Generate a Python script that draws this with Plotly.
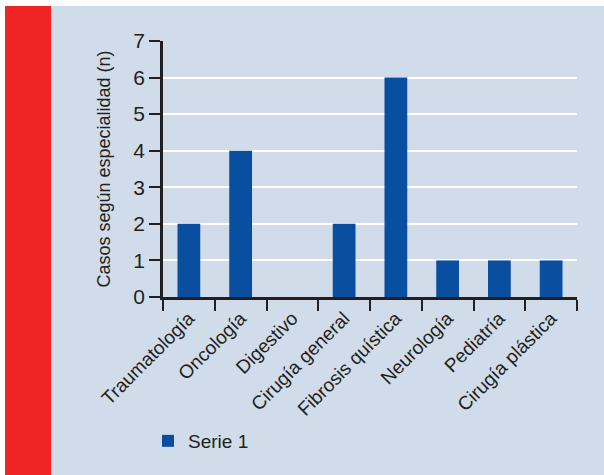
import plotly.graph_objects as go

categorias = ["Traumatología", "Oncología", "Digestivo", "Cirugía general",
              "Fibrosis quística", "Neurología", "Pediatría", "Cirugía plástica"]
casos = [2, 4, 0, 2, 6, 1, 1, 1]
y_ticks = [0, 1, 2, 3, 4, 5, 6, 7]
serie = "Serie 1"

W, H = 604, 475
L, R, T, B = 163, 27, 41, 178
pw, ph = W - L - R, H - T - B

def px_x(p):
    return (p - L) / pw

def px_y(p):
    return (H - B - p) / ph

panel = "#d0dce9"
barra = "#0a4ea0"
tinta = "#231f20"
fuente = "Liberation Sans, Arial, sans-serif"

fig = go.Figure()
fig.add_trace(go.Bar(x=categorias, y=casos, name=serie, marker_color=barra,
                     marker_line_width=0, showlegend=True))

fig.update_layout(
    width=W, height=H,
    margin=dict(l=L, r=R, t=T, b=B, pad=0),
    paper_bgcolor=panel, plot_bgcolor=panel,
    bargap=0.56,
    font=dict(family=fuente, color=tinta),
    showlegend=True,
    legend=dict(x=px_x(148), y=px_y(441), xanchor="left", yanchor="middle",
                bgcolor="rgba(0,0,0,0)", font=dict(size=19, family=fuente, color=tinta)),
    shapes=[
        # white frame strips at top and left
        dict(type="rect", xref="paper", yref="paper", x0=px_x(0), x1=px_x(W),
             y0=px_y(0), y1=px_y(6), fillcolor="white", line_width=0, layer="below"),
        dict(type="rect", xref="paper", yref="paper", x0=px_x(0), x1=px_x(5),
             y0=px_y(0), y1=px_y(H), fillcolor="white", line_width=0, layer="below"),
        # red side band
        dict(type="rect", xref="paper", yref="paper", x0=px_x(5), x1=px_x(51),
             y0=px_y(6), y1=px_y(H), fillcolor="#ee2524", line_width=0, layer="below"),
    ],
)

fig.update_xaxes(
    showgrid=False, showline=True, linecolor=tinta, linewidth=2.5,
    ticks="outside", ticklen=11, tickwidth=1.5, tickcolor=tinta,
    tickson="boundaries", tickangle=-45,
    tickfont=dict(size=19, family=fuente, color=tinta),
)
fig.update_yaxes(
    range=[0, 7], tickvals=y_ticks, showgrid=True, gridcolor="white", gridwidth=2,
    showline=True, linecolor=tinta, linewidth=2.5, zeroline=False,
    ticks="outside", ticklen=11, tickwidth=1.5, tickcolor=tinta,
    tickfont=dict(size=21, family=fuente, color=tinta),
    title=dict(text="Casos según especialidad (n)", standoff=19,
               font=dict(size=18, family=fuente, color=tinta)),
)

fig.write_html("out.html")
